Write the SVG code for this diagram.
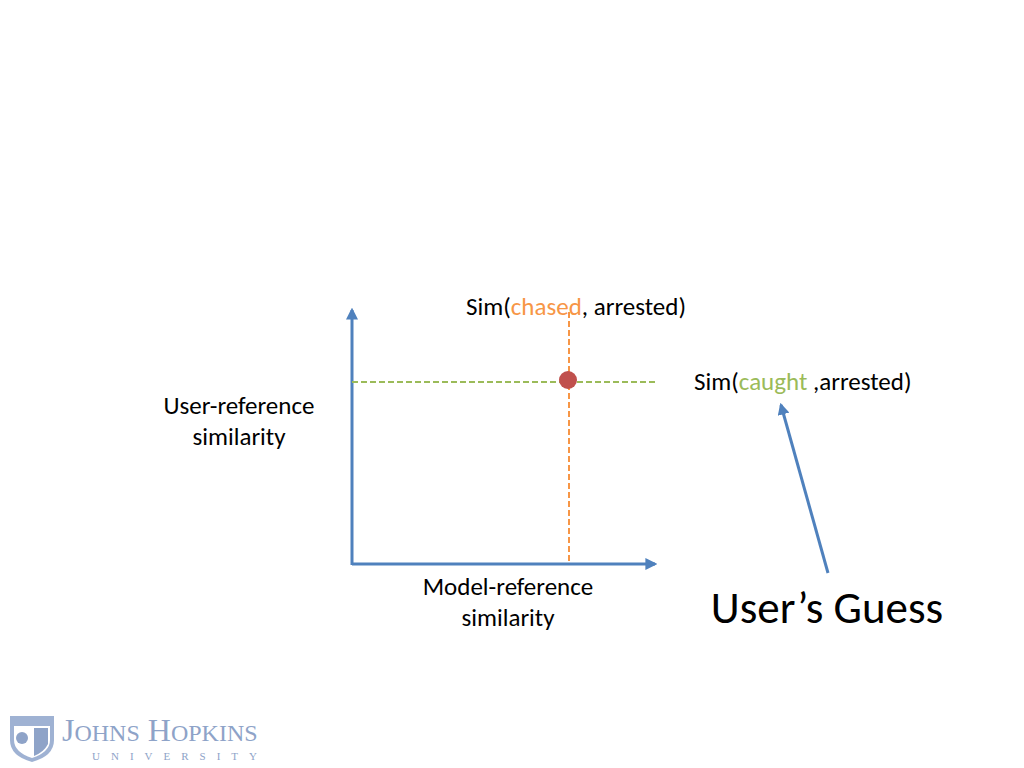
<svg xmlns="http://www.w3.org/2000/svg" width="1024" height="768" viewBox="0 0 1024 768">
<style>
.t{font-family:Calibri,"Liberation Sans",sans-serif;fill:#000}
.ax{stroke:#4f81bd;stroke-width:3;fill:none}
</style>
<defs>
<marker id="ah" viewBox="0 0 10 10" refX="8" refY="5" markerWidth="4" markerHeight="4" orient="auto"><path d="M0,0L10,5L0,10z" fill="#4f81bd"/></marker>
</defs>
<rect width="1024" height="768" fill="#fff"/>
<g id="connectors">
<line class="ax" x1="352" y1="565" x2="352" y2="310" marker-end="url(#ah)"/>
<line class="ax" x1="352" y1="564" x2="655" y2="564" marker-end="url(#ah)"/>
<line x1="352" y1="382" x2="656" y2="382" stroke="#9bbb59" stroke-width="2" stroke-dasharray="6,3"/>
<line x1="569" y1="312" x2="569" y2="564" stroke="#f79646" stroke-width="2" stroke-dasharray="6,3"/>
<line class="ax" x1="828" y1="573" x2="781" y2="405" marker-end="url(#ah)"/>
</g>
<g id="point"><circle cx="568" cy="380" r="9" fill="#c0504d"/></g>
<g id="labels">
<text class="t" x="466" y="315" font-size="25">Sim(<tspan fill="#f79646">chased</tspan>, arrested)</text>
<text class="t" x="694" y="390" font-size="25">Sim(<tspan fill="#9bbb59">caught </tspan>,arrested)</text>
<text class="t" x="239" y="414" font-size="25" text-anchor="middle">User-reference</text>
<text class="t" x="239" y="445" font-size="25" text-anchor="middle">similarity</text>
<text class="t" x="508" y="595" font-size="25" text-anchor="middle">Model-reference</text>
<text class="t" x="508" y="626" font-size="25" text-anchor="middle">similarity</text>
<text class="t" x="827" y="623" font-size="45" text-anchor="middle">User’s Guess</text>
</g>
<g id="logo" fill="#8ea3c8">
<path d="M10,716 L54,716 L54,740 Q54,756 32,762 Q10,756 10,740 Z" fill="#9fb2d3"/>
<path d="M14,726 L50,726 L50,740 Q50,752 32,758 Q14,752 14,740 Z" fill="#fff"/>
<circle cx="22" cy="738" r="6" fill="#8ea3c8"/>
<path d="M34,728 L48,728 L48,744 Q44,752 34,756 Z" fill="#8ea3c8"/>
<text x="62" y="741" font-family="Liberation Serif,serif" font-size="32">J<tspan font-size="24">OHNS</tspan> H<tspan font-size="24">OPKINS</tspan></text>
<text x="92" y="760" font-family="Liberation Serif,serif" font-size="11" letter-spacing="11">UNIVERSITY</text>
</g>
</svg>
